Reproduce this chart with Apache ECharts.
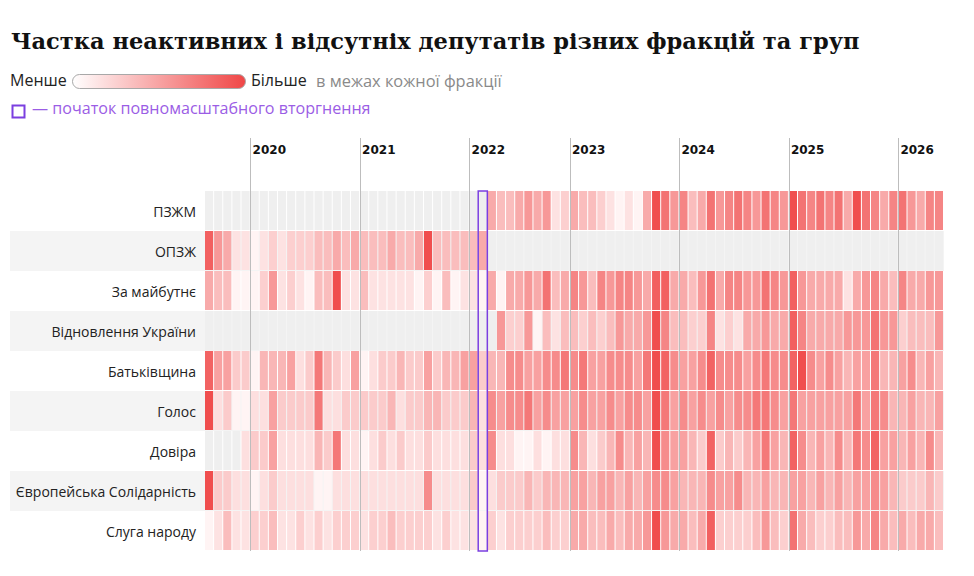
<!DOCTYPE html>
<html>
<head>
<meta charset="utf-8">
<title>Частка неактивних і відсутніх депутатів</title>
<script src="https://cdn.jsdelivr.net/npm/echarts@6/dist/echarts.min.js"></script>
<style>
  html, body { margin: 0; padding: 0; background: #fff; }
  #chart { width: 974px; height: 576px; }
</style>
</head>
<body>
<div id="chart"></div>
<script>
// місяці (у 2022 одного місяця немає в даних)
var months = [
  '2019-08', '2019-09', '2019-10', '2019-11', '2019-12',
  '2020-01', '2020-02', '2020-03', '2020-04', '2020-05', '2020-06', '2020-07', '2020-08', '2020-09', '2020-10', '2020-11', '2020-12',
  '2021-01', '2021-02', '2021-03', '2021-04', '2021-05', '2021-06', '2021-07', '2021-08', '2021-09', '2021-10', '2021-11', '2021-12',
  '2022-01', '2022-02', '2022-03', '2022-04', '2022-05', '2022-06', '2022-07', '2022-09', '2022-10', '2022-11', '2022-12',
  '2023-01', '2023-02', '2023-03', '2023-04', '2023-05', '2023-06', '2023-07', '2023-08', '2023-09', '2023-10', '2023-11', '2023-12',
  '2024-01', '2024-02', '2024-03', '2024-04', '2024-05', '2024-06', '2024-07', '2024-08', '2024-09', '2024-10', '2024-11', '2024-12',
  '2025-01', '2025-02', '2025-03', '2025-04', '2025-05', '2025-06', '2025-07', '2025-08', '2025-09', '2025-10', '2025-11', '2025-12',
  '2026-01', '2026-02', '2026-03', '2026-04', '2026-05'
];

var invasionMonth = '2022-02';

var factions = ['ПЗЖМ', 'ОПЗЖ', 'За майбутнє', 'Відновлення України', 'Батьківщина', 'Голос', 'Довіра', 'Європейська Солідарність', 'Слуга народу'];

// частка неактивних/відсутніх (оцінка), null - фракції ще/вже немає
var pzzhm = [
  null, null, null, null, null,
  null, null, null, null, null, null, null, null, null, null, null, null,
  null, null, null, null, null, null, null, null, null, null, null, null,
  null, null, 5, 4, 4, 5, 6, 5, 6, 2, 3,
  5, 4, 4, 3, 2, 1, 2, 1, 5, 10, 8, 6,
  7, 4, 5, 8, 6, 7, 8, 7, 6, 8, 7, 6,
  10, 8, 7, 8, 7, 8, 5, 10, 8, 7, 5, 7,
  8, 6, 5, 7, 7
];
var opzzh = [
  9, 6, 5, 2, 2,
  1, 2, 3, 2, 3, 3, 3, 4, 4, 5, 4, 5,
  4, 4, 4, 5, 4, 4, 5, 10, 4, 4, 4, 4,
  4, 5, null, null, null, null, null, null, null, null, null,
  null, null, null, null, null, null, null, null, null, null, null, null,
  null, null, null, null, null, null, null, null, null, null, null, null,
  null, null, null, null, null, null, null, null, null, null, null, null,
  null, null, null, null, null
];
var zaMaibutnie = [
  5, 4, 4, 1, 1,
  1, 3, 6, 2, 3, 2, 1, 4, 4, 10, 2, 2,
  4, 2, 2, 2, 2, 2, 1, 3, 1, 4, 1, 2,
  2, 1, 5, 1, 5, 5, 6, 5, 8, 4, 5,
  7, 6, 4, 7, 6, 7, 7, 6, 5, 9, 9, 5,
  5, 4, 6, 8, 5, 7, 7, 6, 6, 8, 7, 6,
  9, 6, 5, 5, 5, 5, 2, 5, 6, 7, 5, 4,
  7, 5, 5, 6, 6
];
var vidnovlennia = [
  null, null, null, null, null,
  null, null, null, null, null, null, null, null, null, null, null, null,
  null, null, null, null, null, null, null, null, null, null, null, null,
  null, null, null, 6, 3, 3, 6, 1, 4, 2, 4,
  4, 3, 4, 3, 4, 6, 5, 5, 6, 10, 7, 4,
  4, 3, 3, 7, 2, 3, 2, 5, 5, 6, 5, 5,
  9, 7, 5, 5, 5, 5, 6, 6, 6, 8, 6, 6,
  3, 4, 4, 4, 6
];
var batkivshchyna = [
  8, 5, 5, 3, 3,
  1, 4, 4, 4, 5, 2, 3, 7, 4, 3, 2, 5,
  1, 2, 3, 3, 4, 3, 3, 5, 3, 4, 4, 5,
  5, 3, 4, 4, 6, 6, 5, 5, 6, 6, 7,
  6, 7, 5, 5, 6, 6, 6, 5, 7, 9, 8, 6,
  5, 5, 6, 8, 6, 6, 6, 5, 6, 7, 6, 6,
  8, 9, 6, 5, 6, 5, 4, 5, 5, 7, 4, 4,
  5, 6, 4, 5, 4
];
var holos = [
  9, 2, 3, 1, 1,
  2, 2, 5, 3, 3, 3, 3, 7, 2, 2, 3, 3,
  3, 3, 3, 4, 2, 3, 3, 4, 4, 3, 3, 3,
  4, 2, 6, 5, 6, 6, 7, 5, 6, 5, 5,
  5, 6, 5, 5, 6, 5, 6, 6, 5, 9, 7, 5,
  6, 5, 6, 5, 6, 5, 6, 6, 7, 7, 6, 5,
  7, 5, 5, 5, 5, 5, 5, 7, 5, 7, 6, 4,
  4, 5, 4, 4, 5
];
var dovira = [
  null, null, null, null, 2,
  3, 3, 5, 2, 2, 2, 2, 4, 3, 7, 2, 2,
  1, 2, 3, 2, 3, 2, 2, 3, 2, 2, 2, 2,
  3, 2, 6, 2, 2, 1, 1, 2, 1, 2, 2,
  6, 4, 2, 3, 4, 6, 4, 5, 4, 9, 6, 5,
  5, 4, 3, 8, 3, 4, 3, 4, 5, 7, 5, 4,
  8, 6, 4, 5, 4, 6, 4, 7, 6, 8, 5, 5,
  4, 5, 4, 6, 4
];
var yes = [
  9, 3, 3, 2, 2,
  1, 2, 3, 2, 2, 2, 2, 1, 1, 2, 2, 2,
  2, 2, 2, 2, 2, 2, 2, 6, 2, 2, 2, 2,
  3, 1, 2, 3, 3, 3, 4, 3, 4, 4, 4,
  5, 5, 4, 5, 5, 4, 5, 4, 5, 6, 6, 5,
  4, 4, 4, 6, 5, 5, 6, 4, 4, 5, 4, 4,
  5, 5, 4, 5, 4, 5, 4, 5, 5, 6, 5, 4,
  3, 3, 3, 4, 3
];
var sluha = [
  1, 2, 4, 2, 2,
  3, 3, 4, 2, 2, 3, 2, 3, 2, 3, 3, 3,
  2, 3, 3, 4, 3, 3, 3, 3, 2, 3, 2, 2,
  2, 1, 3, 2, 3, 3, 3, 3, 4, 3, 3,
  5, 5, 4, 4, 5, 4, 5, 5, 6, 10, 6, 5,
  5, 4, 5, 9, 3, 3, 3, 3, 4, 6, 4, 3,
  8, 5, 4, 3, 3, 4, 4, 6, 5, 7, 5, 4,
  5, 4, 5, 5, 4
];

var rows = [pzzhm, opzzh, zaMaibutnie, vidnovlennia, batkivshchyna, holos, dovira, yes, sluha];

var lowColor = [255, 244, 244];
var highColor = [240, 78, 78];
var emptyColor = '#efefef';
var bandColor = '#f4f4f4';

function mix(t) {
  var c = [];
  for (var k = 0; k < 3; k++) {
    c.push(Math.round(lowColor[k] + (highColor[k] - lowColor[k]) * t));
  }
  return 'rgb(' + c.join(',') + ')';
}

// колір рахується в межах кожної фракції (min..max рядка)
var cells = [];
for (var r = 0; r < rows.length; r++) {
  var vals = rows[r].filter(function (v) { return v != null; });
  var lo = Math.min.apply(null, vals), hi = Math.max.apply(null, vals);
  for (var i = 0; i < months.length; i++) {
    var v = rows[r][i];
    cells.push({
      value: [i, r, v == null ? '-' : v],
      itemStyle: { color: v == null ? emptyColor : mix(hi > lo ? (v - lo) / (hi - lo) : 0) }
    });
  }
}

// січні - межі років
var yearStarts = [];
for (var j = 0; j < months.length; j++) {
  if (months[j].slice(5) === '01') yearStarts.push(j);
}
var invasionIdx = months.indexOf(invasionMonth);

var chart = echarts.init(document.getElementById('chart'), null, { renderer: 'svg' });

var sans = '"Open Sans", "Noto Sans", sans-serif';

var option = {
  backgroundColor: '#fff',
  animation: false,
  title: {
    text: 'Частка неактивних і відсутніх депутатів різних фракцій та груп',
    left: 6,
    top: 24,
    textStyle: {
      fontFamily: '"DejaVu Serif", serif',
      fontWeight: 'bold',
      fontSize: 22.5,
      color: '#111'
    }
  },
  graphic: [
    { type: 'text', left: 10, top: 72, style: { text: 'Менше', fontFamily: sans, fontSize: 16, fill: '#222' } },
    {
      type: 'rect', left: 72, top: 74,
      shape: { width: 173, height: 14, r: 7 },
      style: {
        fill: new echarts.graphic.LinearGradient(0, 0, 1, 0, [
          { offset: 0, color: '#ffffff' },
          { offset: 1, color: '#f04646' }
        ]),
        stroke: '#a8a8a8',
        lineWidth: 1
      }
    },
    { type: 'text', left: 251, top: 72, style: { text: 'Більше', fontFamily: sans, fontSize: 16, fill: '#222' } },
    { type: 'text', left: 316, top: 72, style: { text: 'в межах кожної фракції', fontFamily: sans, fontSize: 16.4, fill: '#8a8a8a' } },
    {
      type: 'rect', left: 10, top: 103,
      shape: { width: 12, height: 12 },
      style: { fill: 'none', stroke: '#7b3fe0', lineWidth: 2 }
    },
    { type: 'text', left: 32, top: 100, style: { text: '— початок повномасштабного вторгнення', fontFamily: sans, fontSize: 16.1, fill: '#9b5de5' } }
  ],
  grid: {
    left: 205,
    right: 30,
    top: 191,
    bottom: 25
  },
  xAxis: {
    type: 'value',
    position: 'top',
    min: 0,
    max: months.length,
    z: 10,
    axisLine: { show: false },
    axisTick: {
      show: true,
      customValues: yearStarts,
      length: 53,
      lineStyle: { color: '#bdbdbd', width: 1 }
    },
    splitLine: {
      show: true,
      lineStyle: { color: '#bdbdbd', width: 1 }
    },
    axisLabel: {
      customValues: yearStarts,
      align: 'left',
      margin: 35,
      fontFamily: '"DejaVu Sans", sans-serif',
      fontWeight: 'bold',
      fontSize: 12,
      color: '#111',
      formatter: function (val) {
        return '{y|' + months[val].slice(0, 4) + '}';
      },
      rich: {
        y: { padding: [0, 0, 0, 2] }
      }
    }
  },
  yAxis: {
    type: 'category',
    data: factions,
    inverse: true,
    axisLine: { show: false },
    axisTick: { show: false },
    splitArea: {
      show: true,
      areaStyle: { color: ['rgba(255,255,255,0)', bandColor] }
    },
    axisLabel: {
      margin: 0,
      fontFamily: sans,
      fontSize: 14,
      color: '#222',
      formatter: function (value, index) {
        return '{' + (index % 2 ? 'b' : 'a') + '|' + value + '}';
      },
      rich: {
        a: { width: 186, height: 40, align: 'right', padding: [0, 9, 0, 0] },
        b: { width: 186, height: 40, align: 'right', padding: [0, 9, 0, 0], backgroundColor: bandColor }
      }
    }
  },
  series: [
    {
      type: 'custom',
      name: 'cells',
      renderItem: function (params, api) {
        var x = api.value(0), y = api.value(1);
        var p0 = api.coord([x, y]);
        var p1 = api.coord([x + 1, y]);
        var h = api.size([1, 1])[1];
        return {
          type: 'rect',
          shape: { x: p0[0], y: p0[1] - h / 2, width: p1[0] - p0[0] - 1, height: h - 1 },
          style: { fill: api.visual('color') }
        };
      },
      encode: { x: 0, y: 1 },
      data: cells
    },
    {
      type: 'custom',
      name: 'invasion',
      z: 20,
      renderItem: function (params, api) {
        var x = api.value(0);
        var top = api.coord([x, 0]);
        var bottom = api.coord([x, factions.length - 1]);
        var right = api.coord([x + 1, 0]);
        var h = api.size([1, 1])[1];
        return {
          type: 'rect',
          shape: { x: top[0] - 0.5, y: top[1] - h / 2, width: right[0] - top[0], height: bottom[1] - top[1] + h },
          style: { fill: 'none', stroke: '#7b3fe0', lineWidth: 1.5 }
        };
      },
      encode: { x: 0 },
      data: [[invasionIdx]]
    }
  ]
};

chart.setOption(option);
</script>
</body>
</html>
